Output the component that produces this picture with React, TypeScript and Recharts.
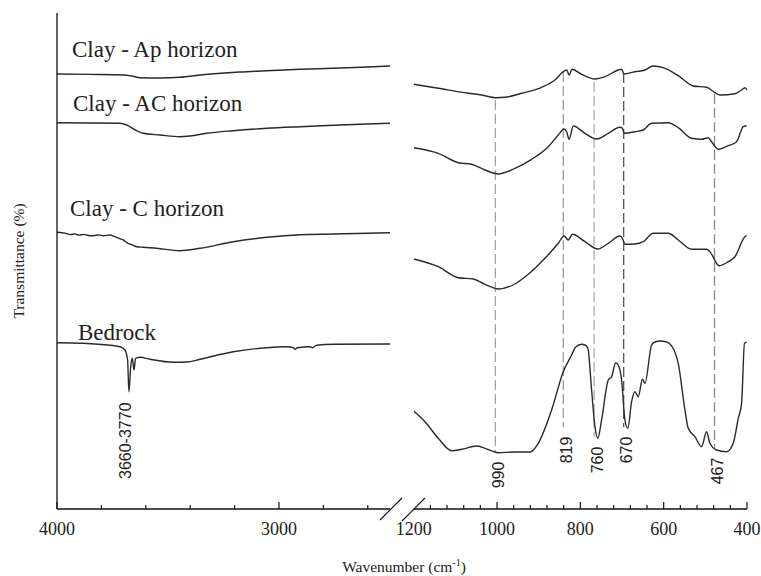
import React from 'react';
import { LineChart, Line, XAxis, YAxis, ReferenceLine, ReferenceDot, Customized } from 'recharts';

type Pt = { wn: number; t: number };
const mk = (rows: number[][]): Pt[] => rows.map(([wn, t]) => ({ wn, t }));

// ---- High wavenumber region (4000 - 2500 cm-1) ----
const apHigh = mk([[4000,435],[3850,434.6],[3701,434],[3664,433],[3626,431.3],[3536,431],[3446,431.7],[3356,434],[3176,437],[3055,438.3],[2905,439.7],[2755,440.7],[2600,442],[2500,443]]);
const acHigh = mk([[4000,386.3],[3850,386],[3716,385.7],[3686,384],[3641,378.3],[3611,375.7],[3536,374],[3446,372.3],[3401,373],[3326,375.7],[3206,378.3],[3055,380.7],[2905,382.3],[2755,383.7],[2605,385],[2500,385.7]]);
const cHigh = mk([[4000,276.7],[3960,275.6],[3940,274.4],[3920,275.1],[3900,273.9],[3880,274.6],[3860,273.5],[3836,273.3],[3810,274.1],[3790,273.2],[3761,274],[3739,272.3],[3715,270.2],[3700,268.8],[3686,266.3],[3665,264.4],[3641,262.3],[3611,261.7],[3551,260.7],[3446,258.3],[3356,260.7],[3206,267.3],[3055,271.7],[2905,274.3],[2755,275],[2500,276.3]]);
const bedHigh = mk([[4000,166.3],[3881,165.7],[3716,162.3],[3694,159],[3682,149],[3676,117.3],[3668,142.3],[3661,150.7],[3653,139],[3646,150.7],[3626,151.7],[3581,149.7],[3476,146.7],[3416,147],[3356,149.7],[3206,157.3],[3055,161.3],[2965,162.3],[2935,161.3],[2928,159.7],[2917,161.3],[2860,162.3],[2850,161.3],[2830,163.7],[2755,164.7],[2500,165]]);

// ---- Low wavenumber region (1200 - 400 cm-1) ----
const apLow = mk([[1200,424.7],[1141,420.7],[1069,415.7],[1037,414],[1001,411.3],[981,411.7],[941,415.7],[893,421.7],[861,429],[841,437.3],[833,439],[827,434],[820,439.7],[797,434.7],[765,430],[741,432.3],[709,439],[701,439.7],[695,435],[669,437.3],[645,439],[625,443],[601,441.3],[565,433.3],[529,423],[497,421.7],[477,416.3],[465,414],[429,415.3],[413,419],[405,421.3],[400,419]]);
const acLow = mk([[1200,361.3],[1141,355.7],[1093,346.3],[1061,344.7],[1029,339],[997,335],[957,340.7],[917,349.7],[877,362.3],[853,374],[839,380],[833,377.3],[827,369.7],[817,383],[789,375.7],[761,370],[733,375.7],[705,381.7],[699,380.7],[695,375.7],[669,377.3],[649,379],[629,385.7],[589,386.3],[565,381.3],[533,370.7],[509,369.7],[493,371.3],[485,367.3],[469,359.7],[445,363.3],[425,367.3],[409,382.3],[401,383.3]]);
const cLow = mk([[1200,250],[1141,242.3],[1093,231.3],[1057,230],[1029,224.7],[997,220],[957,225],[925,234.7],[885,250.7],[853,265.7],[839,273],[829,269],[819,274.7],[789,267.3],[758,260],[733,265.7],[705,273],[699,270.7],[693,264.7],[669,265],[649,267.3],[625,275.7],[589,275.7],[565,269],[533,259.7],[497,259.7],[489,257.3],[467,243.3],[445,247.3],[429,252.3],[405,272.3],[401,273.3]]);
const bedLow = mk([[1200,98],[1173,87.3],[1141,70.7],[1109,58.3],[1085,59.7],[1049,63],[1029,60.7],[997,56.3],[957,57],[921,57],[901,65.7],[869,99],[841,137.3],[821,154],[811,162],[797,164.7],[789,164],[782,160.7],[773,119],[765,82.3],[758,70.7],[749,89],[733,129],[725,132.3],[715,146.3],[709,144],[701,129],[693,89],[686,80.7],[677,107.3],[669,117.3],[661,112.3],[651,129.7],[645,125.7],[629,164],[621,167],[609,168],[597,167.5],[585,165],[575,159],[565,145.7],[549,99],[541,80.7],[525,72.3],[509,62.3],[497,77.3],[489,65.7],[473,59],[449,57.3],[433,65.7],[421,90.7],[413,105.7],[406,165.7],[401,166.7]]);

// ---- Axes ----
const leftTicks = [4000, 3800, 3600, 3400, 3200, 3000, 2800, 2600];
const leftLabels = [4000, 3000];
const rightTicks = [1200, 1160, 1120, 1080, 1040, 1000, 960, 920, 880, 840, 800, 760, 720, 680, 640, 600, 560, 520, 480, 440, 400];
const rightLabels = [1200, 1000, 800, 600, 400];
const rightMajors = [1000, 800, 600, 400];

// ---- Marked bands (position in cm-1 as drawn, label, line extent in transmittance units) ----
const peakWn = [1004, 841, 767, 696, 478];
const peakLabels = ['990', '819', '760', '670', '467'];
const peakTop = [409, 437, 427, 436, 415];
const peakBottom = [57, 82, 72, 82, 61];
const peakColors = ['#a3a3a3', '#9c9c9c', '#aaaaaa', '#555555', '#8a8a8a'];

const bedrockBand = { wn: 3676, t: 117.3, label: '3660-3770' };

const seriesNames = ['Clay - Ap horizon', 'Clay - AC horizon', 'Clay - C horizon', 'Bedrock'];

const W = 761;
const H = 576;
const LINE = '#2a2a2a';
const SERIF = '"Liberation Serif", "Times New Roman", serif';
const SANS = '"Liberation Sans", Arial, sans-serif';

const makeTick = (labels: number[], majors: number[], noMark: number[]) => (props: any) => {
  const { x, y, payload } = props;
  const v = payload.value;
  const len = majors.includes(v) ? 7 : 4;
  return (
    <g>
      {!noMark.includes(v) && (
        <line x1={x} x2={x} y1={y} y2={y - len} stroke="#111" strokeWidth={1.2} />
      )}
      {labels.includes(v) && (
        <text x={x} y={y + 26} textAnchor="middle" fontFamily={SERIF} fontSize={18} fill="#222">
          {v}
        </text>
      )}
    </g>
  );
};

const peakLabel = (text: string) => (props: any) => {
  const vb = props.viewBox || {};
  const cx = (vb.x ?? 0) + 3;
  const cy = (vb.y ?? 0) + (vb.height ?? 0) + 23;
  return (
    <text x={cx} y={cy} transform={`rotate(-90 ${cx} ${cy})`} textAnchor="middle" dominantBaseline="central"
      fontFamily={SANS} fontSize={16} fill="#222">
      {text}
    </text>
  );
};

const bandLabel = (text: string) => (props: any) => {
  const vb = props.viewBox || {};
  const cx = (vb.x ?? 0) + (vb.width ?? 0) / 2 - 3;
  const cy = (vb.y ?? 0) + (vb.height ?? 0) / 2 + 49;
  return (
    <text x={cx} y={cy} transform={`rotate(-90 ${cx} ${cy})`} textAnchor="middle" dominantBaseline="central"
      fontFamily={SANS} fontSize={16} fill="#222">
      {text}
    </text>
  );
};

const Titles = () => (
  <g fontFamily={SERIF} fill="#222">
    <text x={72} y={57} fontSize={23}>{seriesNames[0]}</text>
    <text x={73} y={111} fontSize={23}>{seriesNames[1]}</text>
    <text x={70} y={216} fontSize={23}>{seriesNames[2]}</text>
    <text x={78} y={340} fontSize={23}>{seriesNames[3]}</text>
    <text x={18} y={261} fontSize={15.5} textAnchor="middle" dominantBaseline="central" transform="rotate(-90 18 261)">
      Transmittance (%)
    </text>
    <text x={404} y={572} fontSize={15.5} textAnchor="middle">
      Wavenumber (cm<tspan dy={-6} fontSize={10}>-1</tspan><tspan dy={6}>)</tspan>
    </text>
  </g>
);

const lineProps = {
  dataKey: 't',
  stroke: LINE,
  strokeWidth: 1.4,
  dot: false,
  activeDot: false,
  type: 'monotone' as const,
  isAnimationActive: false,
};

export default function App() {
  return (
    <div style={{ position: 'absolute', left: 0, top: 0, width: W, height: H, background: '#fff' }}>
      <div style={{ position: 'absolute', left: 0, top: 0 }}>
        <LineChart width={W} height={H} margin={{ top: 13, left: 56, right: W - 390, bottom: 7 }}>
          <XAxis
            dataKey="wn"
            type="number"
            domain={[2500, 4000]}
            reversed
            allowDataOverflow
            ticks={leftTicks}
            interval={0}
            tickSize={0}
            tickMargin={0}
            tickLine={false}
            height={60}
            axisLine={{ stroke: '#111', strokeWidth: 1.3 }}
            tick={makeTick(leftLabels, [4000, 3000], [])}
          />
          <YAxis
            type="number"
            domain={[0, 496]}
            allowDataOverflow
            width={1}
            tick={false}
            tickLine={false}
            axisLine={{ stroke: '#111', strokeWidth: 1.3 }}
          />
          <Line data={apHigh} {...lineProps} />
          <Line data={acHigh} {...lineProps} />
          <Line data={cHigh} {...lineProps} />
          <Line data={bedHigh} {...lineProps} />
          <ReferenceDot x={bedrockBand.wn} y={bedrockBand.t} r={0} fill="none" stroke="none"
            label={bandLabel(bedrockBand.label)} ifOverflow="visible" />
          <ReferenceLine segment={[{ x: 2545, y: -11 }, { x: 2446, y: 11 }]} stroke="#111" strokeWidth={1.1} ifOverflow="visible" />
          <Customized component={<Titles />} />
        </LineChart>
      </div>
      <div style={{ position: 'absolute', left: 0, top: 0 }}>
        <LineChart width={W} height={H} margin={{ top: 13, left: 413.7, right: 14, bottom: 7 }}>
          <XAxis
            dataKey="wn"
            type="number"
            domain={[400, 1200]}
            reversed
            allowDataOverflow
            ticks={rightTicks}
            interval={0}
            tickSize={0}
            tickMargin={0}
            tickLine={false}
            height={60}
            axisLine={{ stroke: '#111', strokeWidth: 1.3 }}
            tick={makeTick(rightLabels, rightMajors, [1200])}
          />
          <YAxis type="number" domain={[0, 496]} allowDataOverflow hide />
          {peakWn.map((wn, i) => (
            <ReferenceLine
              key={peakLabels[i]}
              segment={[{ x: wn, y: peakTop[i] }, { x: wn, y: peakBottom[i] }]}
              stroke={peakColors[i]}
              strokeWidth={1.3}
              strokeDasharray="10 4"
              ifOverflow="visible"
              label={peakLabel(peakLabels[i])}
            />
          ))}
          <Line data={apLow} {...lineProps} />
          <Line data={acLow} {...lineProps} />
          <Line data={cLow} {...lineProps} />
          <Line data={bedLow} {...lineProps} />
          <ReferenceLine segment={[{ x: 1228, y: -12 }, { x: 1173, y: 11 }]} stroke="#111" strokeWidth={1.1} ifOverflow="visible" />
        </LineChart>
      </div>
    </div>
  );
}
